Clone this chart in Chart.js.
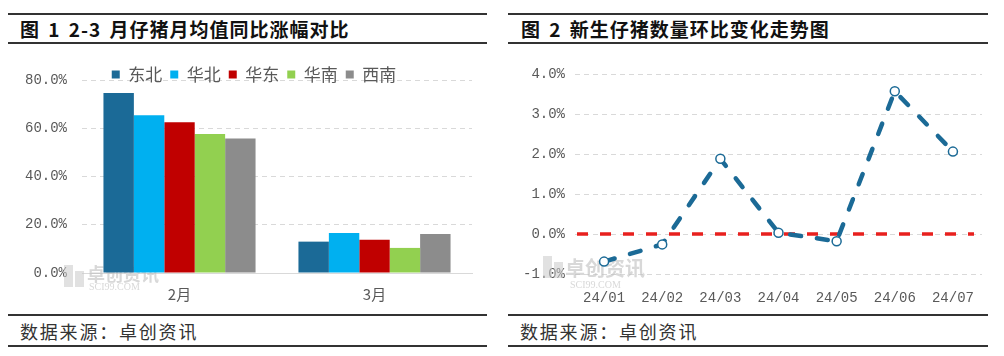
<!DOCTYPE html>
<html><head><meta charset="utf-8">
<script src="https://cdn.jsdelivr.net/npm/chart.js@4/dist/chart.umd.min.js"></script>
<style>
html,body{margin:0;padding:0;background:#fff;width:1004px;height:356px;overflow:hidden;position:relative;font-family:"Noto Sans CJK SC",sans-serif;}
.rule{position:absolute;height:2px;background:#333;}
.title{position:absolute;font-weight:700;font-size:19px;color:#111;line-height:22px;white-space:nowrap;letter-spacing:1px;word-spacing:3px;}
.src{position:absolute;font-size:18px;color:#333;letter-spacing:1.8px;line-height:22px;white-space:nowrap;}
.box{position:absolute;}
</style></head><body>
<div class="rule" style="left:8px;top:13px;width:479px;"></div>
<div class="rule" style="left:8px;top:42px;width:479px;"></div>
<div class="rule" style="left:508px;top:13px;width:480px;"></div>
<div class="rule" style="left:508px;top:42px;width:480px;"></div>
<div class="title" style="left:20px;top:18px;">图 1 2-3 月仔猪月均值同比涨幅对比</div>
<div class="title" style="left:521px;top:18px;">图 2 新生仔猪数量环比变化走势图</div>
<div class="box" style="left:8px;top:44px;width:479px;height:270px;"><canvas id="c1" width="479" height="270"></canvas></div>
<div class="box" style="left:508px;top:44px;width:480px;height:270px;"><canvas id="c2" width="480" height="270"></canvas></div>
<div class="rule" style="left:8px;top:314px;width:479px;"></div>
<div class="rule" style="left:8px;top:345px;width:479px;"></div>
<div class="rule" style="left:508px;top:314px;width:480px;"></div>
<div class="rule" style="left:508px;top:345px;width:480px;"></div>
<div class="src" style="left:20px;top:320px;">数据来源：卓创资讯</div>
<div class="src" style="left:520px;top:320px;">数据来源：卓创资讯</div>
<script>
// ---- Chart 1 data ----
const barCategories = ['2月', '3月'];
const regionNames = ['东北', '华北', '华东', '华南', '西南'];
const dongbei = [74.6, 13.0];
const huabei = [65.4, 16.6];
const huadong = [62.5, 13.8];
const huanan = [57.6, 10.4];
const xinan = [55.8, 16.2];
const barTickValues = [0, 20, 40, 60, 80];

// ---- Chart 2 data ----
const months = ['24/01', '24/02', '24/03', '24/04', '24/05', '24/06', '24/07'];
const momChange = [-0.69, -0.26, 1.88, 0.03, -0.18, 3.57, 2.06];
const lineTickValues = [-1, 0, 1, 2, 3, 4];
const zeroLine = 0;

const regionColors = ['#1b6a97', '#00b0f0', '#c00000', '#92d050', '#8c8c8c'];
const seriesValues = [dongbei, huabei, huadong, huanan, xinan];
const monoFont = 'Liberation Mono, DejaVu Sans Mono, monospace';
const cjkFont = 'Noto Sans CJK SC, sans-serif';
const pct = v => Number(v).toFixed(1) + '%';

function watermark(id, cfg) {
  return {
    id: id,
    beforeDatasetsDraw(chart) {
      const a = chart.chartArea, ctx = chart.ctx;
      ctx.save();
      ctx.fillStyle = 'rgba(200,200,200,0.55)';
      ctx.fillRect(a.left + cfg.lx, a.bottom + cfg.ly, 9, 22);
      ctx.fillRect(a.left + cfg.lx + 11, a.bottom + cfg.ly + 6, 9, 16);
      ctx.fillStyle = 'rgba(190,190,190,0.6)';
      ctx.font = 'bold ' + cfg.fs + 'px ' + cjkFont;
      ctx.textBaseline = 'middle';
      ctx.fillText('卓创资讯', a.left + cfg.tx, a.bottom + cfg.ty);
      ctx.font = '10px Liberation Serif, serif';
      ctx.fillText('SCI99.COM', a.left + cfg.sx, a.bottom + cfg.sy);
      ctx.restore();
    }
  };
}

const legendShift = {
  id: 'legendShift',
  afterLayout(chart) {
    const lg = chart.legend;
    if (!lg) return;
    const dy = 14 - lg.top;
    lg.top += dy; lg.bottom += dy;
    const dx = 246 - (lg.left + lg.right) / 2;
    lg.left += dx; lg.right += dx;
  }
};

new Chart(document.getElementById('c1'), {
  type: 'bar',
  data: {
    labels: barCategories,
    datasets: regionNames.map((n, i) => ({
      label: n,
      data: seriesValues[i],
      backgroundColor: regionColors[i],
      borderWidth: 0,
      barPercentage: 1,
      categoryPercentage: 0.78
    }))
  },
  options: {
    responsive: false,
    animation: false,
    devicePixelRatio: 1,
    layout: { padding: { top: 1, right: 15, left: 0, bottom: 0 } },
    plugins: {
      legend: {
        position: 'top',
        align: 'center',
        labels: {
          boxWidth: 8, boxHeight: 8, padding: 8,
          color: '#595959',
          font: { size: 17, family: cjkFont }
        }
      },
      tooltip: { enabled: false }
    },
    scales: {
      x: {
        grid: { display: false },
        border: { display: true, color: '#d9d9d9', width: 1 },
        ticks: { color: '#595959', font: { size: 15, family: cjkFont }, padding: 4 },
        afterFit: s => { s.height = 41; }
      },
      y: {
        min: 0, max: 80,
        afterBuildTicks: s => { s.ticks = barTickValues.map(v => ({ value: v })); },
        grid: { color: '#d9d9d9', drawTicks: false, lineWidth: 1 },
        border: { display: false, dash: [5, 4] },
        ticks: { callback: pct, color: '#595959', font: { size: 14, family: monoFont }, padding: 15 },
        afterFit: s => { s.width = 74; }
      }
    }
  },
  plugins: [legendShift, watermark('wm1', { lx: -18, ly: -8, fs: 18, tx: 5, ty: 1, sx: 7, sy: 14 })]
});

const zeroLinePlugin = {
  id: 'zeroLine',
  beforeDatasetsDraw(chart) {
    const a = chart.chartArea, ctx = chart.ctx;
    const y = chart.scales.y.getPixelForValue(zeroLine);
    ctx.save();
    ctx.strokeStyle = '#e8201e';
    ctx.lineWidth = 3.5;
    ctx.setLineDash([11, 12]);
    ctx.beginPath();
    ctx.moveTo(a.left + 2, y);
    ctx.lineTo(a.right - 8, y);
    ctx.stroke();
    ctx.restore();
  }
};

new Chart(document.getElementById('c2'), {
  type: 'line',
  data: {
    labels: months,
    datasets: [{
      label: '环比',
      data: momChange,
      borderColor: '#1b6a96',
      borderWidth: 4.5,
      borderDash: [11, 16],
      borderCapStyle: 'round',
      tension: 0,
      fill: false,
      pointRadius: 4.5,
      pointBackgroundColor: '#ffffff',
      pointBorderColor: '#1b6a96',
      pointBorderWidth: 1.5
    }]
  },
  options: {
    responsive: false,
    animation: false,
    devicePixelRatio: 1,
    layout: { padding: { top: 30, right: 3, left: 0, bottom: 0 } },
    plugins: { legend: { display: false }, tooltip: { enabled: false } },
    scales: {
      x: {
        offset: true,
        grid: { display: false },
        border: { display: false },
        ticks: { color: '#595959', font: { size: 14, family: monoFont }, padding: 8 },
        afterFit: s => { s.height = 40; }
      },
      y: {
        min: -1, max: 4,
        afterBuildTicks: s => { s.ticks = lineTickValues.map(v => ({ value: v })); },
        grid: { color: '#d9d9d9', drawTicks: false, lineWidth: 1 },
        border: { display: false, dash: [5, 4] },
        ticks: { callback: pct, color: '#595959', font: { size: 14, family: monoFont }, padding: 10 },
        afterFit: s => { s.width = 67; }
      }
    }
  },
  plugins: [zeroLinePlugin, watermark('wm2', { lx: -32, ly: -18, fs: 20, tx: -10, ty: -6, sx: -5, sy: 11 })]
});
</script>
</body></html>
